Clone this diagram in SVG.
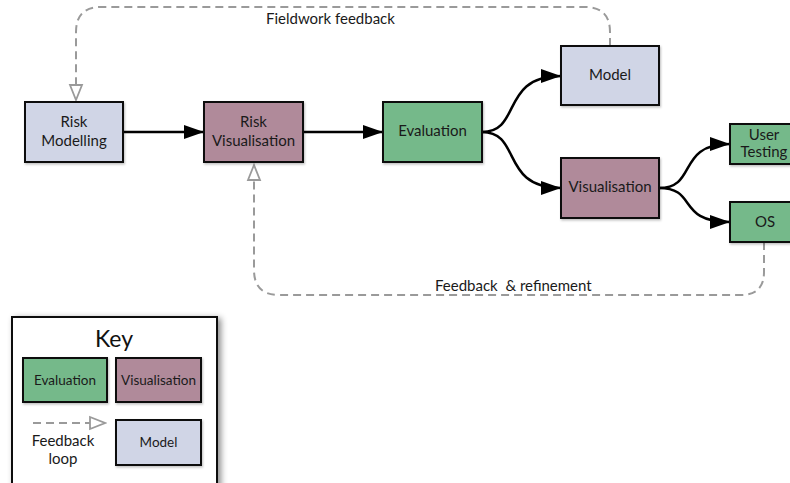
<svg xmlns="http://www.w3.org/2000/svg" width="790" height="483" viewBox="0 0 790 483">
<style>
  .box { stroke: #111; stroke-width: 2; filter: url(#sh); }
  .model { fill: #d0d5e6; }
  .vis { fill: #b08a9a; }
  .eval { fill: #75b98a; }
  .lbl { font-family: Lato, "Open Sans", sans-serif; font-size: 15px; fill: #1a1a1a; text-anchor: middle; }
  .klbl { font-family: Lato, "Open Sans", sans-serif; font-size: 13.5px; fill: #1a1a1a; text-anchor: middle; }
  .edge { fill: none; stroke: #000; stroke-width: 2.5; marker-end: url(#ah); }
  .fb { fill: none; stroke: #9a9a9a; stroke-width: 2; stroke-dasharray: 8 5; marker-end: url(#oh); }
  .fbt { font-family: Lato, "Open Sans", sans-serif; font-size: 15px; fill: #1a1a1a; white-space: pre; }
</style>
<defs>
  <marker id="ah" markerUnits="userSpaceOnUse" markerWidth="20" markerHeight="14" refX="20" refY="7" orient="auto">
    <path d="M0,0 L20,7 L0,14 z" fill="#000"/>
  </marker>
  <marker id="oh" markerUnits="userSpaceOnUse" markerWidth="18" markerHeight="16" refX="16" refY="8" orient="auto">
    <path d="M1,2 L16,8 L1,14 z" fill="#fff" stroke="#9a9a9a" stroke-width="1.8"/>
  </marker>
  <filter id="sh" x="-10%" y="-10%" width="130%" height="130%">
    <feDropShadow dx="1" dy="1.5" stdDeviation="1.2" flood-color="#000" flood-opacity="0.25"/>
  </filter>
  <filter id="ksh" x="-10%" y="-10%" width="130%" height="130%">
    <feDropShadow dx="3" dy="2" stdDeviation="3" flood-color="#000" flood-opacity="0.45"/>
  </filter>
</defs>

<g id="connectors">
  <path class="edge" d="M123,132 L204,132"/>
  <path class="edge" d="M303,132 L383,132"/>
  <path class="edge" d="M482,132 C522,132 500,76 561,76"/>
  <path class="edge" d="M482,132 C522,132 500,188 561,188"/>
  <path class="edge" d="M659,188 C698,188 676,144 730,144"/>
  <path class="edge" d="M659,188 C698,188 676,222 730,222"/>
  <path class="fb" d="M610,46 L610,32 Q610,7 585,7 L101,7 Q76,7 76,32 L76,100"/>
  <path class="fb" d="M764,242 L764,272 Q764,295 741,295 L279,295 Q254,295 254,270 L254,165"/>
  <text class="fbt" x="266" y="24">Fieldwork feedback</text>
  <text class="fbt" x="435" y="291">Feedback  &amp; refinement</text>
</g>

<g id="risk-modelling">
  <rect class="box model" x="25" y="102" width="98" height="60"/>
  <text class="lbl" x="74" y="127">Risk</text>
  <text class="lbl" x="74" y="146">Modelling</text>
</g>
<g id="risk-visualisation">
  <rect class="box vis" x="204" y="102" width="99" height="60"/>
  <text class="lbl" x="253.5" y="127">Risk</text>
  <text class="lbl" x="253.5" y="146">Visualisation</text>
</g>
<g id="evaluation">
  <rect class="box eval" x="383" y="102" width="99" height="60"/>
  <text class="lbl" x="432.5" y="136">Evaluation</text>
</g>
<g id="model">
  <rect class="box model" x="561" y="46" width="98" height="59"/>
  <text class="lbl" x="610" y="80">Model</text>
</g>
<g id="visualisation">
  <rect class="box vis" x="561" y="158" width="98" height="60"/>
  <text class="lbl" x="610" y="192">Visualisation</text>
</g>
<g id="user-testing">
  <rect class="box eval" x="730" y="124" width="70" height="40"/>
  <text class="lbl" x="764" y="140">User</text>
  <text class="lbl" x="764" y="157">Testing</text>
</g>
<g id="os">
  <rect class="box eval" x="730" y="202" width="70" height="40"/>
  <text class="lbl" x="765" y="227">OS</text>
</g>

<g id="key">
  <rect x="12" y="317" width="205" height="190" fill="#fff" stroke="#111" stroke-width="2" filter="url(#ksh)"/>
  <text x="114" y="347" font-family="Lato, 'Open Sans', sans-serif" font-size="23" fill="#111" text-anchor="middle">Key</text>
  <rect class="box eval" x="23" y="358" width="84" height="44"/>
  <text class="klbl" x="65" y="385">Evaluation</text>
  <rect class="box vis" x="116" y="358" width="85" height="44"/>
  <text class="klbl" x="158.5" y="385">Visualisation</text>
  <path class="fb" d="M33,423 L105,423"/>
  <text class="lbl" x="63" y="446" font-size="16">Feedback</text>
  <text class="lbl" x="63" y="464" font-size="16">loop</text>
  <rect class="box model" x="116" y="420" width="85" height="45"/>
  <text class="klbl" x="158.5" y="447">Model</text>
</g>
</svg>
